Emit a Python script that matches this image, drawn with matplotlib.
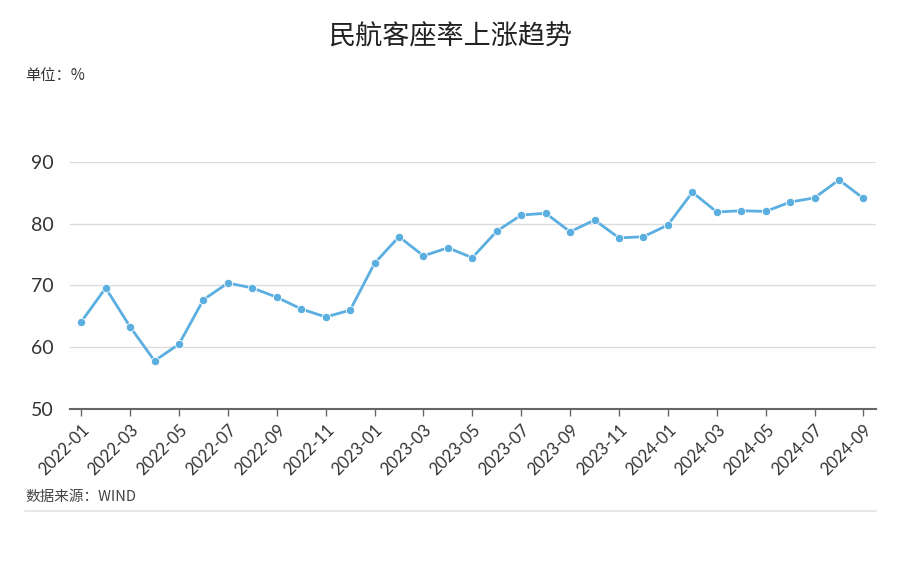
import matplotlib.pyplot as plt
from matplotlib.lines import Line2D

plt.rcParams['font.family'] = ['Noto Sans CJK SC', 'DejaVu Sans']

# Monthly seat load factor, %
months = ["2022-01", "2022-02", "2022-03", "2022-04", "2022-05", "2022-06",
          "2022-07", "2022-08", "2022-09", "2022-10", "2022-11", "2022-12",
          "2023-01", "2023-02", "2023-03", "2023-04", "2023-05", "2023-06",
          "2023-07", "2023-08", "2023-09", "2023-10", "2023-11", "2023-12",
          "2024-01", "2024-02", "2024-03", "2024-04", "2024-05", "2024-06",
          "2024-07", "2024-08", "2024-09"]
load_factor = [64.1, 69.6, 63.3, 57.8, 60.5, 67.7,
               70.4, 69.6, 68.1, 66.2, 64.9, 66.0,
               73.6, 77.9, 74.8, 76.1, 74.5, 78.8,
               81.4, 81.7, 78.7, 80.6, 77.7, 77.9,
               79.8, 85.1, 81.9, 82.1, 82.0, 83.5,
               84.2, 87.1, 84.1]
y_ticks = [50, 60, 70, 80, 90]

fig = plt.figure(figsize=(9, 5.74), dpi=100)
ax = fig.add_axes([0.078, 0.2875, 0.895, 0.4303])

x = list(range(len(months)))
ax.plot(x, load_factor, color='#5aaee0', linewidth=2, marker='o',
        markersize=6, markerfacecolor='#5aaee0', markeredgecolor='white',
        markeredgewidth=0.6, zorder=3)

ax.set_xlim(-0.45, 32.5)
ax.set_ylim(50, 90)
ax.set_yticks(y_ticks)
ax.set_yticklabels([str(v) for v in y_ticks], family=['Lato', 'DejaVu Sans'])
ax.grid(axis='y', color='#dcdcdc', linewidth=1)
ax.set_axisbelow(True)

ax.set_xticks(x[::2])
ax.set_xticklabels(months[::2], rotation=45, ha='right', va='top',
                   rotation_mode='anchor', family=['Lato', 'DejaVu Sans'])

for s in ['top', 'right', 'left']:
    ax.spines[s].set_visible(False)
ax.spines['bottom'].set_color('#666666')
ax.spines['bottom'].set_linewidth(1.5)
ax.tick_params(axis='x', colors='#666666', length=5, width=1, labelsize=12,
               labelcolor='#333333', pad=4)
ax.tick_params(axis='y', length=0, labelsize=14, labelcolor='#333333', pad=12)

fig.text(0.5, 0.936, "民航客座率上涨趋势", ha='center', va='center',
         fontsize=19.5, color='#222222')
fig.text(0.028, 0.868, "单位：%", ha='left', va='center', fontsize=11,
         color='#333333')
fig.text(0.028, 0.134, "数据来源：WIND", ha='left', va='center', fontsize=10.5,
         color='#444444')
fig.add_artist(Line2D([0.028, 0.973], [0.110, 0.110], color='#e3e3e3',
                      linewidth=1.2, transform=fig.transFigure))

fig.savefig('out.png', dpi=100, facecolor='white')
